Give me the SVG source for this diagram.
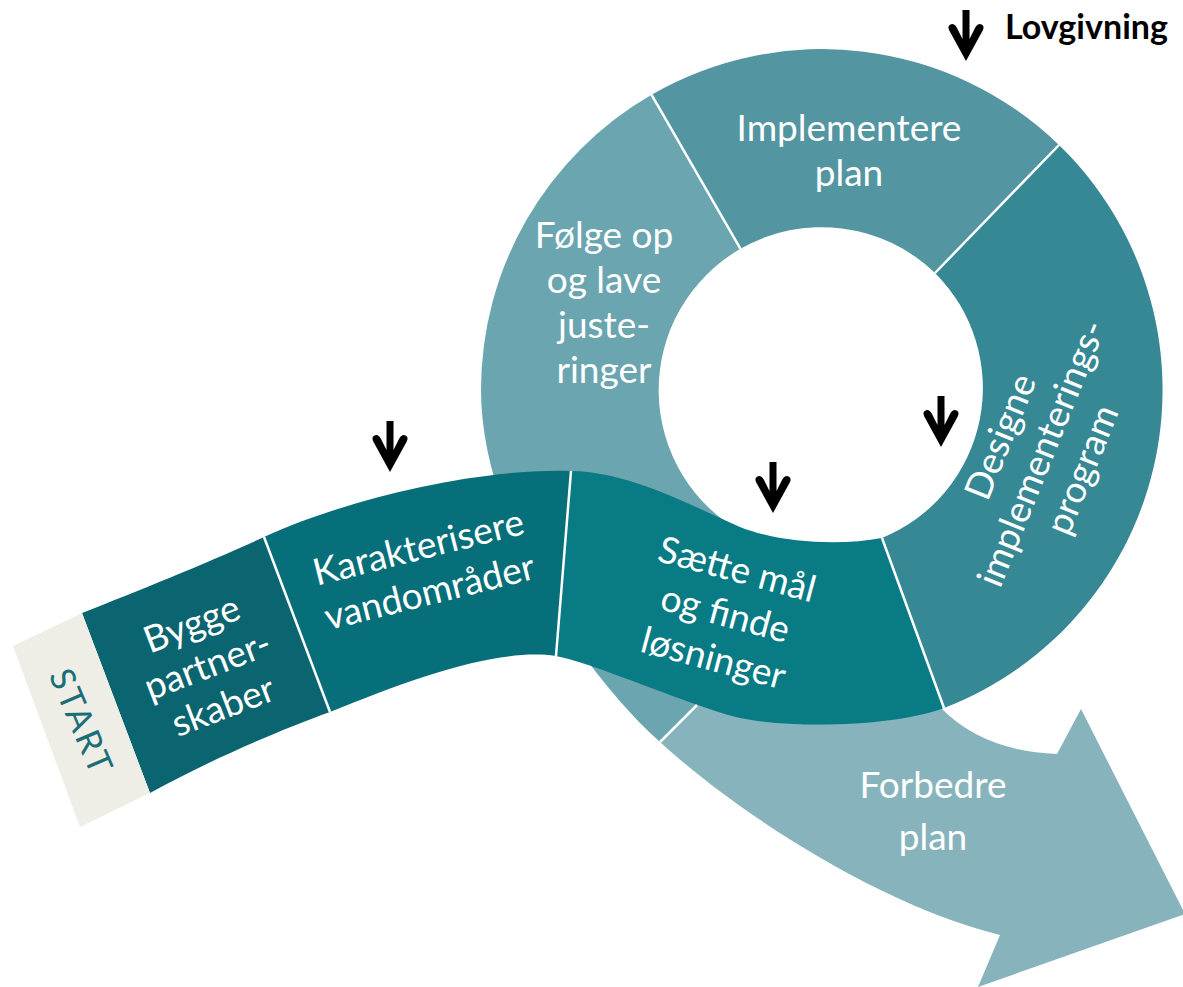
<svg xmlns="http://www.w3.org/2000/svg" xmlns:xlink="http://www.w3.org/1999/xlink" width="1183" height="987" viewBox="0 0 1183 987">
<style>
.lbl{font-family:Lato,"Open Sans","Liberation Sans",sans-serif;font-size:37px;fill:#ffffff;text-anchor:middle}
.dv{stroke:#ffffff;stroke-width:2.5;fill:none}
.law{font-family:Lato,"Open Sans","Liberation Sans",sans-serif;font-weight:bold;font-size:34px;fill:#000}
</style>
<defs>
<path id="arr" d="M0,0 L-17,-31 Q-19,-36 -14,-37 Q-11,-37 -9,-33 L-3.5,-22 L-3.5,-51 L3.5,-51 L3.5,-22 L9,-33 Q11,-37 14,-37 Q19,-36 17,-31 Z" fill="#000"/>
</defs>
<rect width="1183" height="987" fill="#ffffff"/>

<g id="forbedre">
<path d="M660,742 C740,815 880,905 1000,935 L978,987 L1185,914 L1081,709 L1057,754 Q983,751 941,708 L820,700 L697,705 Z" fill="#87b4bc"/>
<text class="lbl" x="933" y="798">Forbedre</text>
<text class="lbl" x="933" y="850">plan</text>
</g>

<g id="folge">
<path d="M651.5,94.7 A341,341 0 0 0 481,390 C481,520 580,670 660,742 L697,705 L760,640 L745,534 A163,163 0 0 1 740.5,248.8 Z" fill="#6ba5af"/>
<text class="lbl" x="604" y="248">Følge op</text>
<text class="lbl" x="604" y="293">og lave</text>
<text class="lbl" x="604" y="338">juste-</text>
<text class="lbl" x="604" y="383">ringer</text>
</g>

<g id="implementere">
<path d="M651.5,94.7 A341,341 0 0 1 1059,145 L935,273 A163,163 0 0 0 740.5,248.8 Z" fill="#5396a2"/>
<text class="lbl" x="849" y="141">Implementere</text>
<text class="lbl" x="849" y="186">plan</text>
</g>

<g id="designe">
<path d="M1059,145 A341,341 0 0 1 944,708 L882,538 A162,162 0 0 0 935,273 Z" fill="#368895"/>
<g transform="translate(1053,458) rotate(-68)">
<text class="lbl" x="0" y="-44">Designe</text>
<text class="lbl" x="0" y="0">implementerings-</text>
<text class="lbl" x="0" y="44">program</text>
</g>
</g>

<g id="saette">
<path d="M571,471 C630,472 690,505 740,527 C780,543 840,546 882,538 L944,708 C900,725 800,730 740,718 C690,706 600,665 556,656 Z" fill="#087b85"/>
<g transform="translate(722,626) rotate(15)">
<text class="lbl" x="0" y="-46">Sætte mål</text>
<text class="lbl" x="0" y="0">og finde</text>
<text class="lbl" x="0" y="46">løsninger</text>
</g>
</g>

<g id="karakterisere">
<path d="M264,537 C340,502 470,468 571,471 L556,656 C500,648 420,675 330,712 Z" fill="#066f7a"/>
<g transform="translate(427,582) rotate(-14)">
<text class="lbl" x="0" y="-23">Karakterisere</text>
<text class="lbl" x="0" y="23">vandområder</text>
</g>
</g>

<g id="bygge">
<path d="M82,613 C140,590 210,562 264,537 L330,712 C280,730 210,760 150,793 Z" fill="#0b6570"/>
<g transform="translate(212,677) rotate(-21)">
<text class="lbl" x="0" y="-44">Bygge</text>
<text class="lbl" x="0" y="0">partner-</text>
<text class="lbl" x="0" y="44">skaber</text>
</g>
</g>

<g id="start">
<path d="M13,646 L82,613 L150,793 L80,827 Z" fill="#eeeee6"/>
<text transform="translate(81,721) rotate(67)" x="0" y="12" font-family="Lato,'Open Sans','Liberation Sans',sans-serif" font-size="34" fill="#1b6e78" text-anchor="middle" textLength="110">START</text>
</g>

<g id="dividers">
<line class="dv" x1="264" y1="537" x2="330" y2="712"/>
<line class="dv" x1="571" y1="471" x2="556" y2="656"/>
<line class="dv" x1="882" y1="538" x2="944" y2="708"/>
<line class="dv" x1="1059" y1="145" x2="935" y2="273"/>
<line class="dv" x1="651.5" y1="94.7" x2="740.5" y2="248.8"/>
<line class="dv" x1="660" y1="742" x2="697" y2="705"/>
</g>

<g id="lovgivning">
<text class="law" x="1005" y="39" textLength="163">Lovgivning</text>
</g>

<g id="connectors">
<use xlink:href="#arr" transform="translate(966,61)"/>
<use xlink:href="#arr" transform="translate(390,472)"/>
<use xlink:href="#arr" transform="translate(773,513)"/>
<use xlink:href="#arr" transform="translate(941,447)"/>
</g>
</svg>
